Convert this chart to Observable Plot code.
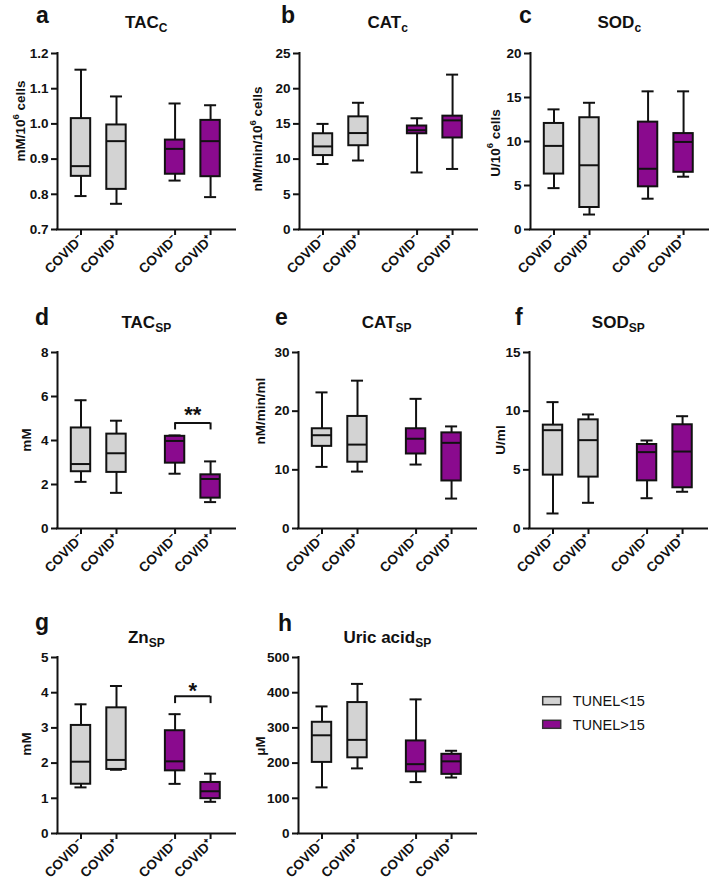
<!DOCTYPE html>
<html><head><meta charset="utf-8">
<script src="https://cdn.jsdelivr.net/npm/d3@7"></script>
<script src="https://cdn.jsdelivr.net/npm/@observablehq/plot@0.6"></script>
<style>
html,body{margin:0;padding:0;background:#fff;}
#chart{position:relative;width:716px;height:892px;overflow:hidden;font-family:"Liberation Sans",Arial,sans-serif;}
#chart svg{position:absolute;}
</style></head><body><div id="chart"></div>
<script>
// ---------- data ----------
const groups = ["TUNEL<15", "TUNEL>15"];
const covidLabels = ["COVID⁻", "COVID⁺"];
const groupFills = ["#d3d3d3", "#8a0a8e"];
// five-number summaries [min, Q1, median, Q3, max]
// order: TUNEL<15 COVID-, TUNEL<15 COVID+, TUNEL>15 COVID-, TUNEL>15 COVID+
const tacC = [[0.795, 0.851, 0.880, 1.015, 1.154], [0.773, 0.814, 0.951, 0.997, 1.078], [0.839, 0.857, 0.929, 0.954, 1.058], [0.792, 0.850, 0.951, 1.010, 1.053]];
const catC = [[9.3, 10.5, 11.8, 13.6, 15.0], [9.8, 11.9, 13.7, 16.0, 18.0], [8.1, 13.6, 14.1, 14.7, 15.8], [8.6, 13.0, 15.5, 16.1, 22.0]];
const sodC = [[4.7, 6.3, 9.5, 12.05, 13.65], [1.7, 2.5, 7.3, 12.7, 14.4], [3.5, 4.85, 6.9, 12.2, 15.7], [6.0, 6.5, 9.95, 10.9, 15.7]];
const tacSP = [[2.12, 2.58, 2.93, 4.57, 5.83], [1.62, 2.55, 3.42, 4.29, 4.90], [2.49, 2.97, 3.98, 4.19, 4.23], [1.20, 1.38, 2.25, 2.44, 3.05]];
const catSP = [[10.5, 14.0, 15.9, 17.0, 23.2], [9.7, 11.3, 14.3, 19.1, 25.2], [10.9, 12.7, 15.3, 17.0, 22.1], [5.1, 8.1, 14.6, 16.3, 17.4]];
const sodSP = [[1.28, 4.55, 8.38, 8.81, 10.77], [2.19, 4.38, 7.53, 9.26, 9.72], [2.58, 4.06, 6.51, 7.16, 7.50], [3.13, 3.47, 6.56, 8.84, 9.57]];
const znSP = [[1.31, 1.40, 2.04, 3.07, 3.67], [1.81, 1.82, 2.09, 3.57, 4.19], [1.41, 1.78, 2.05, 2.92, 3.39], [0.90, 0.99, 1.20, 1.45, 1.70]];
const uricSP = [[131, 202, 279, 316, 361], [185, 215, 266, 372, 425], [146, 175, 197, 263, 381], [159, 168, 205, 225, 235]];
const allStats = [tacC, catC, sodC, tacSP, catSP, sodSP, znSP, uricSP];

const panelLetters = ["a", "b", "c", "d", "e", "f", "g", "h"];
const panelTitles = [["TAC", "C"], ["CAT", "c"], ["SOD", "c"], ["TAC", "SP"], ["CAT", "SP"], ["SOD", "SP"], ["Zn", "SP"], ["Uric acid", "SP"]];
const yLabels = [["mM/10", "6", " cells"], ["nM/min/10", "6", " cells"], ["U/10", "6", " cells"], ["mM"], ["nM/min/ml"], ["U/ml"], ["mM"], ["μM"]];
const yDomains = [[0.7, 1.2], [0, 25], [0, 20], [0, 8], [0, 30], [0, 15], [0, 5], [0, 500]];
const yTickSteps = [0.1, 5, 5, 2, 10, 5, 1, 100];
const yTickDecimals = [1, 0, 0, 0, 0, 0, 0, 0];
// significance between TUNEL>15 COVID- and COVID+
const significance = [
  {panel: 3, label: "**", y: 4.8, drop: 0.32, textY: 5.15},
  {panel: 6, label: "*", y: 3.9, drop: 0.21, textY: 4.05}
];

// ---------- layout ----------
const layout = [
  {ax: 57.3, top: 53}, {ax: 298.7, top: 53}, {ax: 530.3, top: 53},
  {ax: 57.3, top: 352}, {ax: 297.7, top: 352}, {ax: 529.3, top: 352},
  {ax: 57.3, top: 657}, {ax: 298.3, top: 657}
];
const letterPos = [[36, 23], [281, 23], [519, 23], [35, 325], [275, 325], [515, 325], [35, 630], [278, 631]];
const titleBase = [28, 28, 28, 328, 328, 328, 643, 643];
const yLabelPos = [[20, 121], [257, 139], [494.5, 143], [25.5, 440], [259.5, 411], [499.5, 440], [25.5, 744], [259.5, 746]];

const FONT = '"Liberation Sans", Arial, sans-serif';
const INK = "#111";
const unitPx = 35.5, plotW = 178, plotH = 176;
const mL = 60, mR = 8, mT = 14, mB = 75;
const xStart = -23.5 / unitPx;
const groupGap = 0.65;
const boxHalf = 0.273, capHalf = 0.17;
const posOf = (g, c) => g * (2 + groupGap) + c;
const tickPositions = [];
const tickText = new Map();
groups.forEach((g, gi) => covidLabels.forEach((c, ci) => {
  const p = posOf(gi, ci);
  tickPositions.push(p);
  tickText.set(p, c);
}));

const chart = document.getElementById("chart");

allStats.forEach((stats, k) => {
  const rows = stats.map((s, i) => ({
    group: groups[Math.floor(i / 2)],
    pos: posOf(Math.floor(i / 2), i % 2),
    min: s[0], q1: s[1], med: s[2], q3: s[3], max: s[4]
  }));
  const [d0, d1] = yDomains[k];
  const step = yTickSteps[k];
  const n = Math.round((d1 - d0) / step);
  const yt = d3.range(n + 1).map(j => +(d0 + j * step).toFixed(6));
  const fmt = d3.format("." + yTickDecimals[k] + "f");
  const line = {stroke: INK, strokeWidth: 2};
  const sig = significance.filter(s => s.panel === k);
  const a = posOf(1, 0), b = posOf(1, 1);
  const marks = [
    Plot.ruleX(rows, {x: "pos", y1: "min", y2: "q1", ...line}),
    Plot.ruleX(rows, {x: "pos", y1: "q3", y2: "max", ...line}),
    Plot.ruleY(rows, {y: "min", x1: d => d.pos - capHalf, x2: d => d.pos + capHalf, ...line}),
    Plot.ruleY(rows, {y: "max", x1: d => d.pos - capHalf, x2: d => d.pos + capHalf, ...line}),
    Plot.rect(rows, {x1: d => d.pos - boxHalf, x2: d => d.pos + boxHalf, y1: "q1", y2: "q3", fill: "group", ...line}),
    Plot.ruleY(rows, {y: "med", x1: d => d.pos - boxHalf, x2: d => d.pos + boxHalf, ...line}),
    Plot.ruleX([xStart], {y1: d0, y2: d1, ...line, strokeLinecap: "square"}),
    Plot.ruleY([d0], {...line, strokeLinecap: "square"}),
    Plot.axisY({ticks: yt, tickFormat: fmt, tickSize: 6, tickPadding: 3, strokeWidth: 2, label: null, fontSize: 13.5}),
    Plot.axisX({ticks: tickPositions, tickFormat: d => tickText.get(d), tickRotate: -45, tickSize: 6, tickPadding: 2, strokeWidth: 2, label: null, fontSize: 13.5}),
    ...sig.flatMap(s => [
      Plot.ruleY([s], {y: "y", x1: a, x2: b, ...line}),
      Plot.ruleX([a, b], {x: d => d, y1: s.y - s.drop, y2: s.y, ...line}),
      Plot.text([s], {x: (a + b) / 2, y: "textY", text: "label", fontSize: 22, fontWeight: "bold", fill: INK})
    ])
  ];
  const svg = Plot.plot({
    width: mL + plotW + mR, height: mT + plotH + mB,
    marginLeft: mL, marginRight: mR, marginTop: mT, marginBottom: mB,
    x: {domain: [xStart, xStart + plotW / unitPx]},
    y: {domain: [d0, d1]},
    color: {domain: groups, range: groupFills},
    style: {fontFamily: FONT, fontSize: "13.5px", fontWeight: "bold", color: INK, background: "transparent", overflow: "visible"},
    marks
  });
  svg.style.left = (layout[k].ax - mL) + "px";
  svg.style.top = (layout[k].top - mT) + "px";
  svg.style.maxWidth = "none";
  chart.appendChild(svg);
});

// ---------- overlay text: letters, titles, axis labels, legend ----------
const ov = d3.select(chart).append("svg")
  .attr("width", 716).attr("height", 892)
  .style("left", "0px").style("top", "0px")
  .style("font-family", FONT).style("fill", INK);

panelLetters.forEach((L, k) => {
  ov.append("text").attr("x", letterPos[k][0]).attr("y", letterPos[k][1])
    .attr("font-size", 23).attr("font-weight", "bold").text(L);
  const t = ov.append("text")
    .attr("x", layout[k].ax + plotW / 2).attr("y", titleBase[k])
    .attr("text-anchor", "middle").attr("font-size", 17).attr("font-weight", "bold");
  t.append("tspan").text(panelTitles[k][0]);
  t.append("tspan").attr("font-size", 12).attr("dy", 4).text(panelTitles[k][1]);
  const [cx, cy] = yLabelPos[k];
  const yl = ov.append("text")
    .attr("transform", `translate(${cx},${cy}) rotate(-90)`)
    .attr("text-anchor", "middle").attr("dominant-baseline", "central")
    .attr("font-size", 13.5).attr("font-weight", "bold");
  const parts = yLabels[k];
  yl.append("tspan").text(parts[0]);
  if (parts.length > 1) {
    yl.append("tspan").attr("font-size", 9.5).attr("dy", -5.5).text(parts[1]);
    yl.append("tspan").attr("dy", 5.5).text(parts[2]);
  }
});

const legendX = 542.7, legendY = [696.7, 720.3];
groups.forEach((g, i) => {
  ov.append("rect").attr("x", legendX).attr("y", legendY[i]).attr("width", 18).attr("height", 8)
    .attr("fill", groupFills[i]).attr("stroke", "#333").attr("stroke-width", 1.5);
  ov.append("text").attr("x", 572.7).attr("y", legendY[i] + 9.3)
    .attr("font-size", 14.5).text(g);
});
</script></body></html>
